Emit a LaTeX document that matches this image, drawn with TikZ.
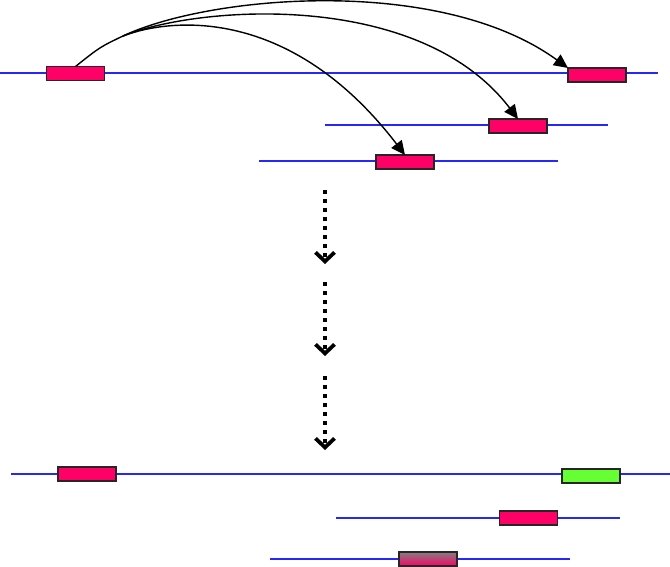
\documentclass[tikz,border=0pt]{standalone}
\usetikzlibrary{arrows.meta}
\definecolor{exonred}{RGB}{255,0,102}
\definecolor{exongreen}{RGB}{102,255,51}
\definecolor{seqblue}{RGB}{40,40,245}
\begin{document}
\begin{tikzpicture}[x=1pt,y=-1pt,
    seq/.style={seqblue, line width=1.8pt},
    exon/.style={draw=black!85, line width=1.5pt, fill=exonred, rectangle,
      minimum width=58pt, minimum height=14pt, inner sep=0pt, outer sep=0pt},
    jump/.style={black, line width=1.4pt, -{Triangle[length=14pt,width=13pt]}},
    step down/.style={black, line width=3.8pt, dash pattern=on 4pt off 5pt,
      -{Straight Barb[length=9pt,width=19pt]}}]
    \useasboundingbox (0,0) rectangle (670,567);
    % sequences before
    \draw[seq] (0,73) -- (658,73);
    \draw[seq] (325,125) -- (608,125);
    \draw[seq] (259,161) -- (558,161);
    \node[exon] (src) at (75.5,73.5) {};
    \node[exon] (hitA) at (597,75) {};
    \node[exon] (hitB) at (518,126) {};
    \node[exon] (hitC) at (405,162) {};
    % searches
    \coordinate (fork) at (123,36);
    \draw[black, line width=1.4pt] (src.north) .. controls (100,47) .. (fork);
    \draw[jump] (fork) .. controls (210,-5) and (440,-25) .. (hitA.north west);
    \draw[jump] (fork) .. controls (200,5) and (420,-10) .. (hitB.north);
    \draw[jump] (fork) .. controls (170,18) and (290,5) .. (hitC.north);
    % steps
    \coordinate (s1) at (325,190);
    \coordinate (e1) at (325,264);
    \coordinate (s2) at (325,282);
    \coordinate (e2) at (325,356);
    \coordinate (s3) at (325,376);
    \coordinate (e3) at (325,450);
    \draw[step down] (s1) -- (e1);
    \draw[step down] (s2) -- (e2);
    \draw[step down] (s3) -- (e3);
    % sequences after
    \draw[seq] (11,474) -- (670,474);
    \draw[seq] (336,518) -- (620,518);
    \draw[seq] (270,559) -- (570,559);
    \node[exon] (outA) at (87,474) {};
    \node[exon, fill=exongreen] (outB) at (591,476) {};
    \node[exon] (outC) at (528.5,518) {};
    \node[exon, top color=gray, bottom color=exonred] (outD) at (428,559) {};
\end{tikzpicture}
\end{document}
